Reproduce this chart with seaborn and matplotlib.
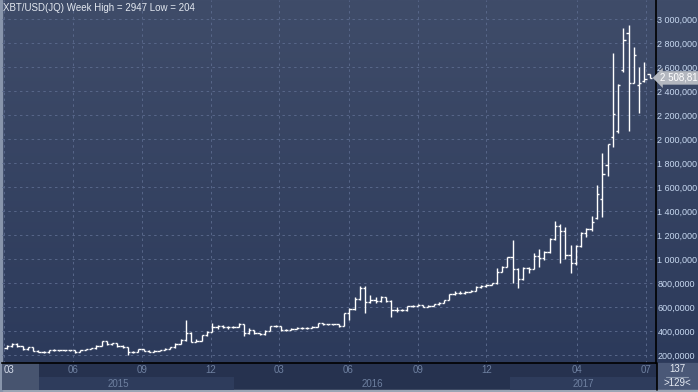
import matplotlib
matplotlib.use("Agg")
import matplotlib.pyplot as plt
import matplotlib.dates as mdates
import matplotlib.transforms as mtransforms
from matplotlib.colors import LinearSegmentedColormap
from matplotlib.patches import Rectangle
import numpy as np
import pandas as pd
import seaborn as sns

# weekly OHLC, XBT/USD, one bar per week (mid-week dates)
first_week = "2015-03-05"
opens = [256, 275, 292, 275, 247, 264, 236, 228, 222, 242,
         240, 238, 241, 239, 228, 242, 250, 256, 275, 314,
         292, 297, 275, 264, 228, 228, 247, 236, 228, 236,
         242, 253, 264, 292, 325, 381, 311, 319, 367, 394,
         431, 442, 436, 436, 436, 458, 381, 405, 380, 372,
         403, 438, 440, 408, 408, 418, 428, 422, 428, 436,
         464, 458, 458, 455, 440, 547, 581, 664, 760, 639,
         658, 653, 680, 650, 575, 572, 575, 608, 610, 617,
         603, 610, 622, 636, 658, 708, 719, 714, 728, 736,
         770, 776, 785, 797, 894, 936, 1014, 915, 831, 925,
         920, 1025, 1006, 1061, 1164, 1275, 1230, 1030, 964, 1108,
         1219, 1247, 1339, 1497, 1783, 2019, 2070, 2575, 2886, 2464,
         2450, 2480, 2540]
highs = [282, 303, 296, 279, 268, 266, 240, 232, 245, 246,
         243, 245, 243, 240, 245, 253, 260, 280, 318, 316,
         300, 300, 280, 266, 236, 250, 249, 240, 238, 244,
         255, 266, 296, 330, 492, 388, 335, 370, 398, 464,
         452, 446, 440, 442, 464, 462, 425, 410, 386, 406,
         445, 446, 442, 415, 422, 430, 430, 430, 440, 468,
         468, 462, 462, 458, 552, 590, 680, 778, 775, 700,
         680, 690, 685, 655, 600, 585, 612, 620, 625, 620,
         615, 628, 640, 662, 712, 735, 730, 735, 745, 775,
         780, 790, 800, 922, 945, 1020, 1158, 922, 936, 936,
         1047, 1083, 1065, 1172, 1320, 1290, 1265, 1117, 1120, 1228,
         1255, 1358, 1617, 1881, 1958, 2714, 2460, 2922, 2947, 2769,
         2603, 2644, 2545]
lows = [250, 270, 268, 244, 243, 232, 222, 216, 220, 234,
        232, 235, 232, 220, 225, 238, 246, 252, 272, 285,
        286, 270, 260, 204, 214, 225, 232, 224, 226, 232,
        240, 250, 262, 288, 320, 305, 308, 315, 362, 390,
        418, 425, 420, 424, 432, 358, 376, 372, 365, 370,
        400, 430, 400, 402, 405, 414, 418, 418, 425, 434,
        452, 450, 450, 436, 438, 492, 575, 660, 553, 630,
        630, 645, 640, 514, 560, 565, 570, 600, 605, 598,
        600, 605, 618, 630, 655, 700, 705, 710, 722, 732,
        760, 770, 780, 795, 890, 930, 803, 756, 825, 886,
        915, 936, 990, 1047, 1160, 969, 1000, 881, 950, 1100,
        1180, 1236, 1331, 1353, 1694, 1936, 2053, 2561, 2069, 2464,
        2214, 2478, 2505]
closes = [275, 292, 275, 247, 264, 236, 228, 222, 242, 240,
          238, 241, 239, 228, 242, 250, 256, 275, 314, 292,
          297, 275, 264, 228, 228, 247, 236, 228, 236, 242,
          253, 264, 292, 325, 381, 311, 319, 367, 394, 431,
          442, 436, 436, 436, 458, 381, 405, 380, 372, 403,
          438, 440, 408, 408, 418, 428, 422, 428, 436, 464,
          458, 458, 455, 440, 547, 581, 664, 760, 639, 658,
          653, 680, 650, 575, 572, 575, 608, 610, 617, 603,
          610, 622, 636, 658, 708, 719, 714, 728, 736, 770,
          776, 785, 797, 894, 936, 1014, 915, 831, 925, 920,
          1025, 1006, 1061, 1164, 1275, 1230, 1030, 964, 1108, 1219,
          1247, 1311, 1542, 1708, 1958, 2208, 2450, 2825, 2464, 2700,
          2469, 2497, 2508.81]

month_dates = ["2015-03-01", "2015-06-01", "2015-09-01", "2015-12-01",
               "2016-03-01", "2016-06-01", "2016-09-01", "2016-12-01",
               "2017-04-01", "2017-07-01"]
month_labels = ["03", "06", "09", "12", "03", "06", "09", "12", "04", "07"]
year_starts = ["2015-01-01", "2016-01-01", "2017-01-01", "2018-01-01"]
year_labels = ["2015", "2016", "2017"]
y_ticks = [200, 400, 600, 800, 1000, 1200, 1400, 1600, 1800,
           2000, 2200, 2400, 2600, 2800, 3000]
last_price = 2508.81
title = "XBT/USD(JQ) Week High = 2947 Low = 204"
bar_count = "137"
bar_count_sub = ">129<"

sns.set_theme(style="dark")
plt.rcParams["font.family"] = ["Liberation Sans", "DejaVu Sans"]

W, H = 698, 392
fig = plt.figure(figsize=(W / 100, H / 100), dpi=100)

# background in pixel coordinates
bg = fig.add_axes([0, 0, 1, 1], zorder=0)
bg.set_xlim(0, W)
bg.set_ylim(H, 0)
bg.axis("off")
grad = np.linspace(0, 1, 256).reshape(-1, 1)
cmap = LinearSegmentedColormap.from_list("bg", ["#3f4c69", "#2c3a5b"])
bg.imshow(grad, cmap=cmap, extent=(0, W, 363, 0), aspect="auto")
bg.add_patch(Rectangle((0, 363), W, 29, color="#26324f"))
bg.add_patch(Rectangle((657, 363), 41, 27, color="#4a5877"))
bg.add_patch(Rectangle((0, 390), W, 2, color="#9ba4b4"))
bg.add_patch(Rectangle((0, 0), 2, 392, color="#8895ab"))
bg.plot([656.5, 656.5], [363, 390], color="black", lw=1.2)
bg.plot([666, 688], [377, 377], color="#8e9bb0", lw=0.8)
bg.text(677, 369.5, bar_count, ha="center", va="center", color="#e6ebf3", fontsize=7)
bg.text(677, 383.5, bar_count_sub, ha="center", va="center", color="#e6ebf3", fontsize=7)

df = pd.DataFrame({"date": pd.date_range(first_week, periods=len(closes), freq="7D"),
                   "open": opens, "high": highs, "low": lows, "close": closes})
x = mdates.date2num(df["date"])
half = 3.0

x_start = pd.Timestamp("2015-02-26 18:00")
x_end = pd.Timestamp("2017-07-14 08:00")

ax = fig.add_axes([2 / W, 29 / H, 654 / W, 363 / H], zorder=2)
ax.set_facecolor("none")
ax.vlines(x, df["low"], df["high"], color="white", lw=1.0)
ax.hlines(df["open"], x - half, x, color="white", lw=1.0)
ax.hlines(df["close"], x, x + half, color="white", lw=1.0)

ax.set_xlim(mdates.date2num(x_start), mdates.date2num(x_end))
ax.set_ylim(133.3, 3158)
ax.set_xticks(mdates.date2num(pd.to_datetime(month_dates)))
ax.set_yticks(y_ticks)
ax.grid(True, color="#58678a", lw=0.7, linestyle=(0, (2.5, 3.5)))
ax.yaxis.tick_right()


def fmt(v):
    # the terminal shows as many decimals as fit in the price column
    s = f"{v:,.3f}" if v >= 1000 else f"{v:,.4f}"
    return s.replace(",", " ").replace(".", ",")


ax.set_yticklabels([fmt(v) for v in y_ticks])
ax.tick_params(axis="y", length=0, pad=1.0, labelsize=6.5, labelcolor="#c8d9f1")
ax.tick_params(axis="x", length=0, labelbottom=False)
for side in ["top", "left"]:
    ax.spines[side].set_visible(False)
for side in ["bottom", "right"]:
    ax.spines[side].set_color("black")
    ax.spines[side].set_linewidth(1.2)

blend = mtransforms.blended_transform_factory(ax.transAxes, ax.transData)
ax.text(1.006, last_price, "2 508,81", transform=blend, ha="left", va="center",
        fontsize=7, color="white",
        bbox=dict(boxstyle="larrow,pad=0.18", fc="#b3b7bf", ec="none"))

fig.text(3 / W, 1 - 8 / H, title, ha="left", va="center", fontsize=7, color="#e3e8f0")

# date band under the plot
bx = fig.add_axes([2 / W, 2 / H, 654 / W, 27 / H], zorder=1)
bx.set_xlim(ax.get_xlim())
bx.set_ylim(0, 1)
bx.set_facecolor("none")
for s in bx.spines.values():
    s.set_visible(False)
bx.set_xticks([])
bx.set_yticks([])
ys = mdates.date2num(pd.to_datetime(year_starts))
xl0, xl1 = ax.get_xlim()
for k, lab in enumerate(year_labels):
    a, b = max(ys[k], xl0), min(ys[k + 1], xl1)
    if k % 2 == 0:
        bx.axvspan(a, b, ymin=0, ymax=0.48, color="#2e3c5c", lw=0)
    bx.text((a + b) / 2, 0.24, lab, ha="center", va="center", fontsize=7, color="#6e80a0")
bx.axvspan(xl0, xl0 + 37 / 654 * (xl1 - xl0), color="#47546f", lw=0)
md = mdates.date2num(pd.to_datetime(month_dates))
for k, lab in enumerate(month_labels):
    if k == 0:
        bx.text(md[k], 0.74, lab, ha="left", va="center", fontsize=7, color="#d5dcea")
    else:
        bx.text(md[k], 0.74, lab, ha="center", va="center", fontsize=7, color="#6e80a0")

fig.savefig("out.png", dpi=100)
